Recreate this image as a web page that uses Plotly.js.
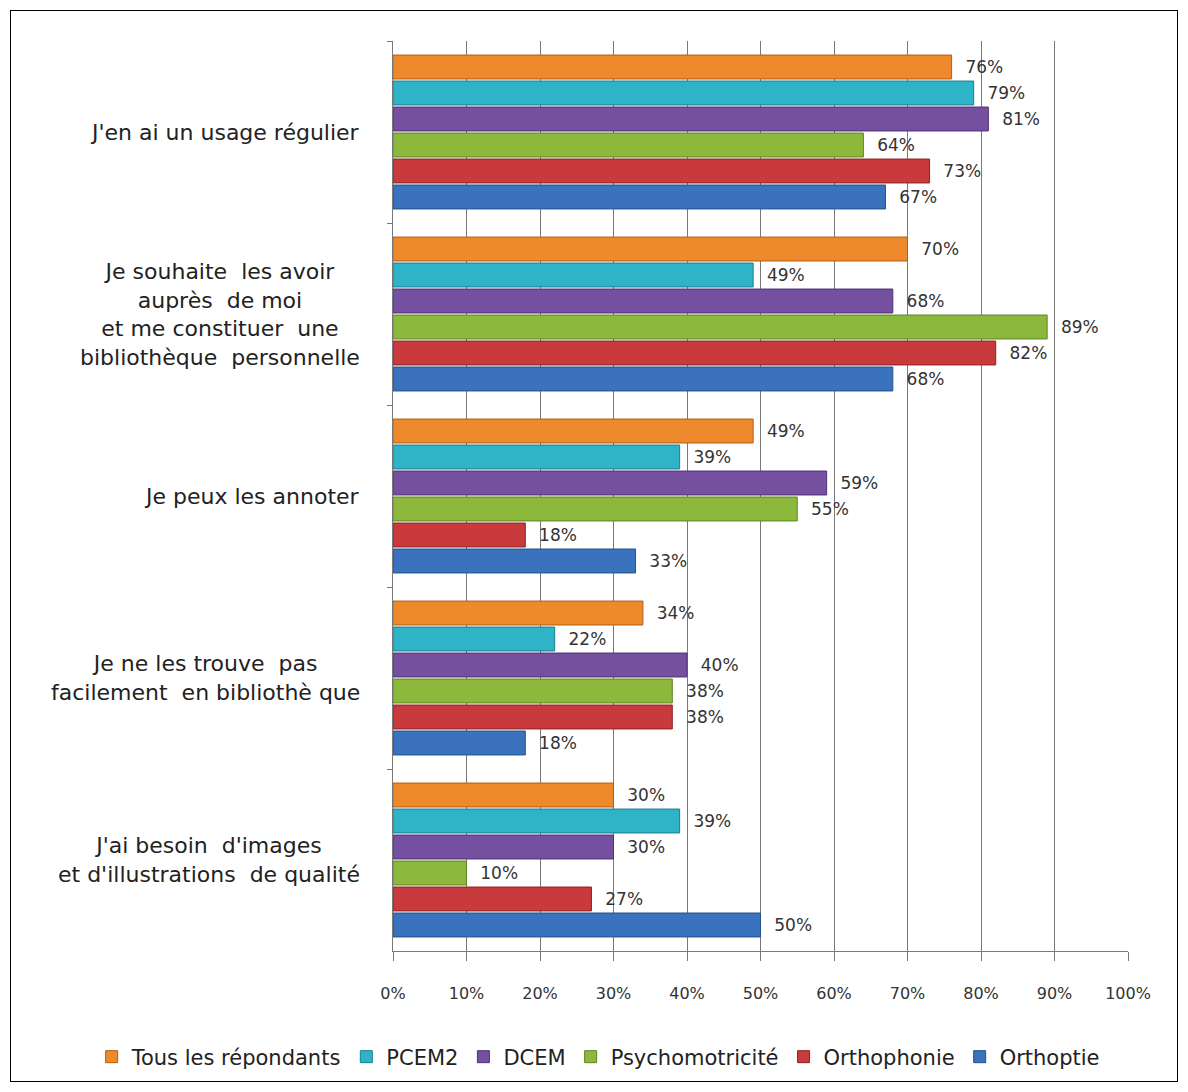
<!DOCTYPE html>
<html>
<head>
<meta charset="utf-8">
<script src="https://cdn.plot.ly/plotly-3.0.1.min.js"></script>
<style>
html,body{margin:0;padding:0;background:#fff;}
#frame{position:absolute;left:10px;top:10px;width:1166px;height:1070px;border:1px solid #000;pointer-events:none;}
#chart{width:1188px;height:1092px;}
</style>
</head>
<body>
<div id="chart"></div>
<div id="frame"></div>
<script>
const categories = [
  "J'en ai un usage régulier",
  "Je souhaite  les avoir<br>auprès  de moi<br>et me constituer  une<br>bibliothèque  personnelle",
  "Je peux les annoter",
  "Je ne les trouve  pas<br>facilement  en bibliothè que",
  "J'ai besoin  d'images<br>et d'illustrations  de qualité"
];
const seriesNames = ["Tous les répondants", "PCEM2", "DCEM", "Psychomotricité", "Orthophonie", "Orthoptie"];
const tous = [76, 70, 49, 34, 30];
const pcem2 = [79, 49, 39, 22, 39];
const dcem = [81, 68, 59, 40, 30];
const psycho = [64, 89, 55, 38, 10];
const orthophonie = [73, 82, 18, 38, 27];
const orthoptie = [67, 68, 33, 18, 50];
const xTicks = [0, 10, 20, 30, 40, 50, 60, 70, 80, 90, 100];
const xTickLabels = ["0%", "10%", "20%", "30%", "40%", "50%", "60%", "70%", "80%", "90%", "100%"];

const values = [tous, pcem2, dcem, psycho, orthophonie, orthoptie];
const fills = ["#EE8A2C", "#2FB3C6", "#7550A0", "#8CB83C", "#C93A3C", "#3B72BD"];
const edges = ["#B35D14", "#1C7D8C", "#4E3273", "#5E8424", "#8E2223", "#24508C"];
const FONT = "DejaVu Sans, sans-serif";

const catKeys = categories.map((c, i) => "c" + i);

const traces = values.map((v, i) => ({
  type: "bar",
  orientation: "h",
  name: seriesNames[i],
  y: catKeys,
  x: v,
  text: v.map(d => "\u00a0\u00a0" + d + "%"),
  texttemplate: "%{text}",
  marker: {color: fills[i], line: {color: edges[i], width: 1}},
  textposition: "outside",
  cliponaxis: false,
  textfont: {family: FONT, size: 17, color: "#333"},
  hoverinfo: "x+name"
}));

const annotations = categories.map((c, i) => ({
  xref: "paper", yref: "y",
  x: -0.042, y: catKeys[i],
  xanchor: "right", yanchor: "middle",
  align: "center",
  text: c,
  showarrow: false,
  font: {family: FONT, size: 22, color: "#222"}
}));

const layout = {
  width: 1188, height: 1092,
  margin: {l: 393, r: 60, t: 41, b: 141},
  paper_bgcolor: "#fff", plot_bgcolor: "#fff",
  barmode: "group",
  bargap: 0.143,
  bargroupgap: 0.08,
  showlegend: true,
  legend: {
    orientation: "h",
    x: -0.41, xanchor: "left", y: -0.1165, yanchor: "middle",
    font: {family: FONT, size: 21, color: "#222"},
    traceorder: "normal", itemwidth: 30
  },
  xaxis: {
    range: [0, 100], tickvals: xTicks, ticktext: xTickLabels,
    showgrid: true, gridcolor: "#7a7a7a", gridwidth: 1,
    showline: true, linecolor: "#7a7a7a", linewidth: 1,
    ticks: "outside", ticklen: 9, tickcolor: "#7a7a7a",
    ticklabelstandoff: 19,
    tickfont: {family: FONT, size: 16, color: "#333"},
    zeroline: false, fixedrange: true
  },
  yaxis: {
    type: "category", autorange: "reversed",
    showticklabels: false,
    tickson: "boundaries", ticks: "outside", ticklen: 5, tickcolor: "#7a7a7a",
    showline: true, linecolor: "#7a7a7a", linewidth: 1,
    showgrid: false, zeroline: false, fixedrange: true
  },
  annotations: annotations
};

Plotly.newPlot("chart", traces, layout, {displayModeBar: false, staticPlot: true});
</script>
</body>
</html>
